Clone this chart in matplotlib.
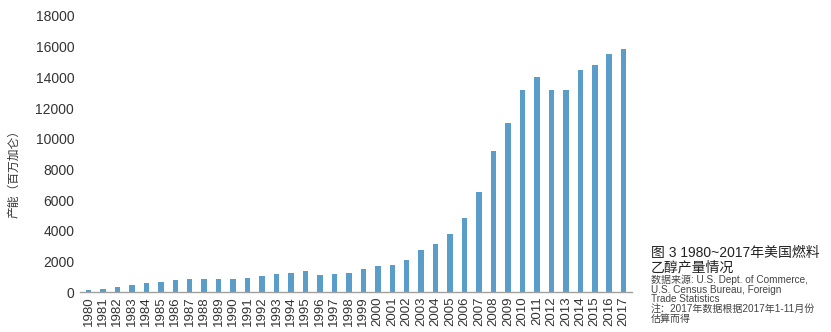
import matplotlib
matplotlib.use("Agg")
import matplotlib.pyplot as plt
import numpy as np

plt.rcParams['font.family'] = ['Liberation Sans', 'Noto Sans CJK SC', 'DejaVu Sans']

years = [str(y) for y in range(1980, 2018)]
production = [150, 200, 360, 450, 580, 690, 800, 860, 860, 860, 860, 900, 1080, 1180, 1240,
              1370, 1090, 1170, 1240, 1480, 1700, 1740, 2090, 2760, 3150, 3820, 4860, 6550,
              9200, 11000, 13200, 14000, 13200, 13200, 14500, 14800, 15500, 15850]
yticks = [0, 2000, 4000, 6000, 8000, 10000, 12000, 14000, 16000, 18000]

bar_color = '#5b9dc9'
text_color = '#333333'

fig = plt.figure(figsize=(8.31, 3.32), dpi=100)
ax = fig.add_axes([0.096, 0.12, 0.665, 0.832])
x = np.arange(len(years))
ax.bar(x, production, width=0.38, color=bar_color)
ax.set_xlim(-0.6, len(years) - 0.4)
ax.set_ylim(0, 18000)
ax.set_yticks(yticks)
ax.set_yticklabels([str(v) for v in yticks], fontsize=10, color=text_color)
ax.set_xticks(x)
ax.set_xticklabels(years, rotation=90, fontsize=9.5, color=text_color)
ax.tick_params(axis='both', length=0, pad=4)
ax.tick_params(axis='x', pad=3)
for s in ['top', 'right', 'left']:
    ax.spines[s].set_visible(False)
ax.spines['bottom'].set_color('#a0a0a0')
ax.spines['bottom'].set_linewidth(1.0)
ax.set_ylabel('产能（百万加仑）', fontsize=8.5, color=text_color,
              family=['Noto Sans CJK SC', 'DejaVu Sans'])
ax.yaxis.set_label_coords(-0.108, 0.44)

fig.text(0.783, 0.238, '图 3 1980~2017年美国燃料', fontsize=10, color='#222222',
         family=['Liberation Sans', 'Noto Sans CJK SC'], va='center', ha='left')
fig.text(0.783, 0.194, '乙醇产量情况', fontsize=10, color='#222222',
         family=['Noto Sans CJK SC', 'Liberation Sans'], va='center', ha='left')
small = ['数据来源: U.S. Dept. of Commerce,',
         'U.S. Census Bureau, Foreign',
         'Trade Statistics',
         '注：2017年数据根据2017年1-11月份',
         '估算而得']
ys = [0.158, 0.128, 0.099, 0.069, 0.039]
for t, yy in zip(small, ys):
    fig.text(0.783, yy, t, fontsize=7.2, color='#444444',
             family=['Liberation Sans', 'Noto Sans CJK SC'], va='center', ha='left')

fig.savefig('out.png', dpi=100)
